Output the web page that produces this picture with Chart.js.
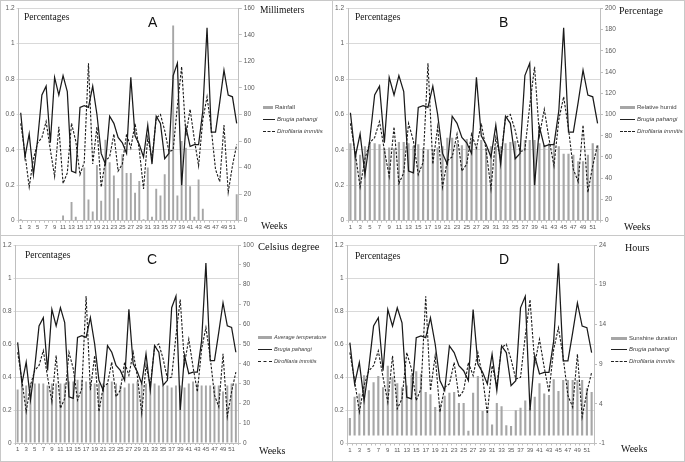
<!DOCTYPE html>
<html>
<head>
<meta charset="utf-8">
<script src="https://cdn.jsdelivr.net/npm/chart.js@4.4.0/dist/chart.umd.min.js"></script>
<style>
  body { margin: 0; background: #fff; }
  #wrap { position: relative; width: 685px; height: 462px; overflow: hidden; }
  .frame { position: absolute; border: 1px solid #c8c8c8; box-sizing: border-box; }
  canvas { position: absolute; }
  .t { position: absolute; white-space: nowrap; line-height: 1; color: #111; font-family: "Liberation Serif", serif; }
  .big { font-family: "Liberation Sans", sans-serif; font-size: 14px; }
  .lg { position: absolute; display: flex; align-items: center; height: 8px; font-family: "Liberation Sans", sans-serif; font-size: 6px; color: #404040; white-space: nowrap; }
  .lg i { font-style: italic; }
  .sw-bar { height: 3px; background: #a6a6a6; margin-right: 2px; }
  .sw-line { height: 0; border-top: 1px solid #222; margin-right: 2px; }
  .sw-dash { height: 0; border-top: 1px dashed #222; margin-right: 2px; }
</style>
</head>
<body>
<div id="wrap">
  <div class="frame" style="left:0;top:0;width:685px;height:462px"></div>
  <div class="frame" style="left:332px;top:0;width:1px;height:462px;border-width:0 0 0 1px"></div>
  <div class="frame" style="left:0;top:235px;width:685px;height:1px;border-width:1px 0 0 0"></div>

  <canvas id="cA"></canvas>
  <canvas id="cB"></canvas>
  <canvas id="cC"></canvas>
  <canvas id="cD"></canvas>

  <div class="t" style="left:24px;top:13px;font-size:9.5px">Percentages</div>
  <div class="t big" style="left:148px;top:15px">A</div>
  <div class="t" style="left:260px;top:6px;font-size:9.5px">Millimeters</div>
  <div class="t" style="left:261px;top:221px;font-size:10px">Weeks</div>
  <div class="lg" style="left:263px;top:103px"><span class="sw-bar" style="width:10px"></span>Rainfall</div>
  <div class="lg" style="left:263px;top:115px"><span class="sw-line" style="width:12px"></span><i>Brugia pahangi</i></div>
  <div class="lg" style="left:263px;top:127px"><span class="sw-dash" style="width:12px"></span><i>Dirofilaria immitis</i></div>

  <div class="t" style="left:355px;top:13px;font-size:9.5px">Percentages</div>
  <div class="t big" style="left:499px;top:15px">B</div>
  <div class="t" style="left:619px;top:5.5px;font-size:10px">Percentage</div>
  <div class="t" style="left:624px;top:222px;font-size:10px">Weeks</div>
  <div class="lg" style="left:620px;top:103px"><span class="sw-bar" style="width:15px"></span>Relative humid</div>
  <div class="lg" style="left:620px;top:115px"><span class="sw-line" style="width:15px"></span><i>Brugia pahangi</i></div>
  <div class="lg" style="left:620px;top:127px"><span class="sw-dash" style="width:15px"></span><i>Dirofilaria immitis</i></div>

  <div class="t" style="left:25px;top:251px;font-size:9.5px">Percentages</div>
  <div class="t big" style="left:147px;top:252px">C</div>
  <div class="t" style="left:258px;top:242px;font-size:10.5px">Celsius degree</div>
  <div class="t" style="left:259px;top:446px;font-size:10px">Weeks</div>
  <div class="lg" style="left:258px;top:333px;font-size:5.6px"><span class="sw-bar" style="width:14px"></span><i>Average temperature</i></div>
  <div class="lg" style="left:258px;top:345px;font-size:5.6px"><span class="sw-line" style="width:14px"></span><i>Brugia pahangi</i></div>
  <div class="lg" style="left:258px;top:357px;font-size:5.6px"><span class="sw-dash" style="width:14px"></span><i>Dirofilaria immitis</i></div>

  <div class="t" style="left:355px;top:252px;font-size:9.5px">Percentages</div>
  <div class="t big" style="left:499px;top:252px">D</div>
  <div class="t" style="left:625px;top:243px;font-size:10px">Hours</div>
  <div class="t" style="left:621px;top:444px;font-size:10px">Weeks</div>
  <div class="lg" style="left:611px;top:334px"><span class="sw-bar" style="width:16px"></span>Sunshine duration</div>
  <div class="lg" style="left:611px;top:345px"><span class="sw-line" style="width:16px"></span><i>Brugia pahangi</i></div>
  <div class="lg" style="left:611px;top:357px"><span class="sw-dash" style="width:16px"></span><i>Dirofilaria immitis</i></div>
</div>

<script>
// weekly data
const weeks = ['1','2','3','4','5','6','7','8','9','10','11','12','13','14','15','16','17','18','19','20','21','22','23','24','25','26',
  '27','28','29','30','31','32','33','34','35','36','37','38','39','40','41','42','43','44','45','46','47','48','49','50','51','52'];

const brugiaPahangi = [0.61,0.36,0.49,0.26,0.46,0.71,0.76,0.44,0.81,0.71,0.82,0.73,0.28,0.27,0.64,0.65,0.64,0.76,0.60,0.38,0.32,0.59,0.55,0.47,0.44,0.38,
  0.81,0.48,0.43,0.36,0.54,0.32,0.59,0.55,0.35,0.38,0.82,0.89,0.20,0.53,0.42,0.43,0.43,0.62,1.09,0.50,0.50,0.67,0.85,0.71,0.70,0.55];

const dirofilariaImmitis = [0.55,0.38,0.19,0.35,0.44,0.47,0.56,0.40,0.25,0.53,0.21,0.27,0.55,0.45,0.26,0.33,0.89,0.32,0.53,0.19,0.34,0.36,0.49,0.28,0.32,0.49,
  0.41,0.55,0.40,0.18,0.47,0.35,0.58,0.60,0.51,0.39,0.40,0.65,0.87,0.48,0.63,0.46,0.31,0.57,0.70,0.52,0.29,0.22,0.54,0.16,0.31,0.43];

const rainfall = [1,0,0,0,0,0,0,0,0,0,4,0,14,3,0,40,16,7,42,15,61,44,34,17,50,36,
  36,21,30,1,40,3,24,19,35,52,147,19,60,55,26,3,31,9,0,0,0,0,0,0,0,20];

const relativeHumid = [73,65,62,70,74,73,72,68,69,68,74,74,73,70,72,68,67,67,69,70,78,78,73,71,77,76,
  70,76,68,70,70,70,73,74,75,72,76,76,76,73,71,73,73,70,63,63,62,56,56,62,73,71];

const averageTemperature = [27,29,29,30,30,30,30,29,30,30,30,30,31,31,32,32,31,31,30,30,30,30,31,30,29,28,
  30,30,31,30,30,30,30,29,29,29,28,29,29,28,30,31,30,29,29,29,29,29,26,29,30,30];

const sunshineDuration = [2.2,4.9,5.3,7.6,5.7,6.7,7.5,6.1,8.8,7.4,6.6,6.1,6.3,7.6,8.1,7.8,5.5,5.2,3.6,4.0,5.0,5.4,5.5,4.1,4.1,0.6,
  5.4,7.5,3.1,3.2,1.4,4.1,3.7,1.3,1.2,3.2,3.5,4.4,3.5,4.9,6.6,5.3,5.1,7.1,5.6,7.0,7.0,7.0,7.0,7.0,6.0,5.5];

const hoursTicks = [-1, 4, 9, 14, 19, 24];

const tickFont = { family: 'Liberation Sans', size: 6.5 };
const tickColor = '#595959';
const axisColor = '#bfbfbf';

function buildPanel(id, box, area, barLabel, barData, right) {
  const cv = document.getElementById(id);
  cv.style.left = box.x + 'px';
  cv.style.top = box.y + 'px';
  cv.style.width = box.w + 'px';
  cv.style.height = box.h + 'px';
  cv.width = box.w;
  cv.height = box.h;

  const leftW = area.l - box.x;
  const rightW = 20;
  const padRight = box.x + box.w - area.r - rightW;
  const xH = box.y + box.h - area.b;

  const y1 = {
    position: 'right',
    min: right.min,
    max: right.max,
    ticks: { stepSize: right.step, font: tickFont, color: tickColor, padding: 2 },
    grid: { drawOnChartArea: false, tickLength: 3, color: axisColor },
    border: { color: axisColor },
    afterFit: s => { s.width = rightW; }
  };
  if (right.ticks) {
    y1.afterBuildTicks = s => { s.ticks = right.ticks.map(v => ({ value: v })); };
  }

  return new Chart(cv, {
    type: 'bar',
    data: {
      labels: weeks,
      datasets: [
        {
          type: 'line', label: 'Brugia pahangi', data: brugiaPahangi, yAxisID: 'y',
          borderColor: '#1a1a1a', borderWidth: 1.25, pointRadius: 0, tension: 0, order: 0
        },
        {
          type: 'line', label: 'Dirofilaria immitis', data: dirofilariaImmitis, yAxisID: 'y',
          borderColor: '#1a1a1a', borderWidth: 1.1, borderDash: [2.5, 1.5], pointRadius: 0, tension: 0, order: 0
        },
        {
          type: 'bar', label: barLabel, data: barData, yAxisID: 'y1',
          backgroundColor: '#a6a6a6', barPercentage: 0.45, categoryPercentage: 1, order: 1
        }
      ]
    },
    options: {
      responsive: false,
      animation: false,
      layout: { padding: { top: area.t - box.y, right: padRight, left: 0, bottom: 0 } },
      plugins: { legend: { display: false }, tooltip: { enabled: false } },
      scales: {
        x: {
          ticks: {
            autoSkip: false, maxRotation: 0, minRotation: 0, padding: 1,
            font: { family: 'Liberation Sans', size: 6 }, color: tickColor,
            callback: (v, i) => (i % 2 === 0 ? weeks[i] : '')
          },
          grid: { drawOnChartArea: false, tickLength: 2, color: axisColor },
          border: { color: axisColor },
          afterFit: s => { s.height = xH; }
        },
        y: {
          position: 'left',
          min: 0, max: 1.2,
          ticks: {
            stepSize: 0.2, font: tickFont, color: tickColor, padding: 2,
            callback: v => String(Math.round(v * 10) / 10)
          },
          grid: { color: '#d9d9d9', tickLength: 2 },
          border: { color: axisColor },
          afterFit: s => { s.width = leftW; }
        },
        y1: y1
      }
    }
  });
}

buildPanel('cA', { x: 0, y: 0, w: 332, h: 235 }, { l: 18.6, r: 238.8, t: 8.3, b: 220.7 },
  'Rainfall', rainfall, { min: 0, max: 160, step: 20 });
buildPanel('cB', { x: 333, y: 0, w: 352, h: 235 }, { l: 348, r: 600, t: 8.3, b: 220.7 },
  'Relative humid', relativeHumid, { min: 0, max: 200, step: 20 });
buildPanel('cC', { x: 0, y: 236, w: 332, h: 226 }, { l: 15.5, r: 238, t: 245, b: 443 },
  'Average temperature', averageTemperature, { min: 0, max: 100, step: 10 });
buildPanel('cD', { x: 333, y: 236, w: 352, h: 226 }, { l: 347.5, r: 594, t: 245, b: 443.5 },
  'Sunshine duration', sunshineDuration, { min: -1, max: 24, step: 5, ticks: hoursTicks });
</script>
</body>
</html>
